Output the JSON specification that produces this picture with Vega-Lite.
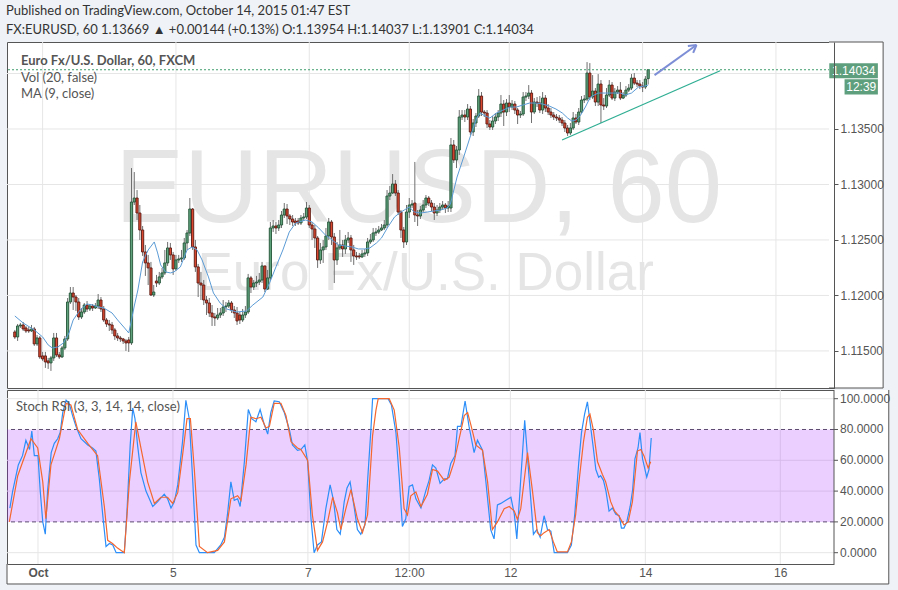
{
"$schema": "https://vega.github.io/schema/vega-lite/v6.json",
"background": "#eff2f6",
"padding": {"left": 6, "top": 5, "right": 10, "bottom": 8},
"spacing": 0,
"title": {"text": "Published on TradingView.com, October 14, 2015 01:47 EST", "subtitle": "FX:EURUSD, 60  1.13669 ▲ +0.00144 (+0.13%)  O:1.13954  H:1.14037  L:1.13901  C:1.14034", "anchor": "start", "font": "Lato", "fontSize": 13, "fontWeight": "normal", "color": "#333333", "subtitleFont": "Lato", "subtitleFontSize": 13, "subtitleColor": "#333333", "subtitlePadding": 6, "offset": 4},
"config": {"view": {"stroke": "#555555", "strokeWidth": 1, "fill": "#ffffff"}, "axis": {"grid": false, "labelFont": "Liberation Sans", "labelFontSize": 12, "labelColor": "#555555", "tickColor": "#555555", "domainColor": "#555555", "labelOverlap": false, "labelBound": false}},
"datasets": {
"candles": [
{"t":-10,"o":1.11671,"h":1.11689,"l":1.11608,"c":1.11626},
{"t":-9,"o":1.11626,"h":1.11743,"l":1.11590,"c":1.11725},
{"t":-8,"o":1.11725,"h":1.11752,"l":1.11707,"c":1.11734},
{"t":-7,"o":1.11734,"h":1.11761,"l":1.11680,"c":1.11698},
{"t":-6,"o":1.11707,"h":1.11725,"l":1.11662,"c":1.11680},
{"t":-5,"o":1.11689,"h":1.11716,"l":1.11662,"c":1.11680},
{"t":-4,"o":1.11680,"h":1.11734,"l":1.11671,"c":1.11698},
{"t":-3,"o":1.11698,"h":1.11716,"l":1.11545,"c":1.11563},
{"t":-2,"o":1.11563,"h":1.11644,"l":1.11545,"c":1.11617},
{"t":-1,"o":1.11617,"h":1.11635,"l":1.11428,"c":1.11446},
{"t":0,"o":1.11455,"h":1.11491,"l":1.11410,"c":1.11428},
{"t":1,"o":1.11455,"h":1.11491,"l":1.11347,"c":1.11401},
{"t":2,"o":1.11410,"h":1.11437,"l":1.11338,"c":1.11392},
{"t":3,"o":1.11392,"h":1.11455,"l":1.11320,"c":1.11437},
{"t":4,"o":1.11437,"h":1.11662,"l":1.11410,"c":1.11617},
{"t":5,"o":1.11617,"h":1.11662,"l":1.11446,"c":1.11464},
{"t":6,"o":1.11464,"h":1.11491,"l":1.11428,"c":1.11446},
{"t":7,"o":1.11446,"h":1.11545,"l":1.11437,"c":1.11527},
{"t":8,"o":1.11527,"h":1.11635,"l":1.11509,"c":1.11608},
{"t":9,"o":1.11608,"h":1.11977,"l":1.11590,"c":1.11941},
{"t":10,"o":1.11941,"h":1.12076,"l":1.11923,"c":1.12022},
{"t":11,"o":1.12022,"h":1.12076,"l":1.11869,"c":1.11986},
{"t":12,"o":1.11986,"h":1.12004,"l":1.11860,"c":1.11941},
{"t":13,"o":1.11941,"h":1.11977,"l":1.11779,"c":1.11806},
{"t":14,"o":1.11806,"h":1.11887,"l":1.11788,"c":1.11851},
{"t":15,"o":1.11851,"h":1.11932,"l":1.11833,"c":1.11914},
{"t":16,"o":1.11914,"h":1.11950,"l":1.11851,"c":1.11878},
{"t":17,"o":1.11878,"h":1.11923,"l":1.11860,"c":1.11905},
{"t":18,"o":1.11905,"h":1.11923,"l":1.11860,"c":1.11887},
{"t":19,"o":1.11887,"h":1.11932,"l":1.11878,"c":1.11905},
{"t":20,"o":1.11905,"h":1.12013,"l":1.11878,"c":1.11959},
{"t":21,"o":1.11959,"h":1.11986,"l":1.11851,"c":1.11878},
{"t":22,"o":1.11878,"h":1.11905,"l":1.11761,"c":1.11779},
{"t":23,"o":1.11779,"h":1.11797,"l":1.11716,"c":1.11743},
{"t":24,"o":1.11743,"h":1.11779,"l":1.11680,"c":1.11734},
{"t":25,"o":1.11734,"h":1.11761,"l":1.11653,"c":1.11689},
{"t":26,"o":1.11689,"h":1.11707,"l":1.11599,"c":1.11635},
{"t":27,"o":1.11635,"h":1.11662,"l":1.11590,"c":1.11617},
{"t":28,"o":1.11617,"h":1.11635,"l":1.11581,"c":1.11608},
{"t":29,"o":1.11608,"h":1.11617,"l":1.11563,"c":1.11590},
{"t":30,"o":1.11590,"h":1.11608,"l":1.11500,"c":1.11572},
{"t":31,"o":1.11599,"h":1.11626,"l":1.11491,"c":1.11572},
{"t":32,"o":1.11572,"h":1.13148,"l":1.11554,"c":1.12842},
{"t":33,"o":1.12842,"h":1.13112,"l":1.12815,"c":1.12878},
{"t":34,"o":1.12878,"h":1.12950,"l":1.12680,"c":1.12743},
{"t":35,"o":1.12743,"h":1.12815,"l":1.12500,"c":1.12590},
{"t":36,"o":1.12590,"h":1.12626,"l":1.12356,"c":1.12392},
{"t":37,"o":1.12392,"h":1.12455,"l":1.12176,"c":1.12293},
{"t":38,"o":1.12293,"h":1.12365,"l":1.12094,"c":1.12248},
{"t":39,"o":1.12248,"h":1.12302,"l":1.11995,"c":1.12004},
{"t":40,"o":1.12004,"h":1.12094,"l":1.11986,"c":1.12031},
{"t":41,"o":1.12130,"h":1.12185,"l":1.12076,"c":1.12112},
{"t":42,"o":1.12112,"h":1.12212,"l":1.12094,"c":1.12167},
{"t":43,"o":1.12167,"h":1.12248,"l":1.12149,"c":1.12203},
{"t":44,"o":1.12203,"h":1.12410,"l":1.12185,"c":1.12293},
{"t":45,"o":1.12293,"h":1.12482,"l":1.12266,"c":1.12428},
{"t":46,"o":1.12428,"h":1.12473,"l":1.12320,"c":1.12365},
{"t":47,"o":1.12365,"h":1.12392,"l":1.12185,"c":1.12239},
{"t":48,"o":1.12239,"h":1.12365,"l":1.12221,"c":1.12320},
{"t":49,"o":1.12320,"h":1.12365,"l":1.12293,"c":1.12329},
{"t":50,"o":1.12329,"h":1.12410,"l":1.12302,"c":1.12338},
{"t":51,"o":1.12338,"h":1.12518,"l":1.12320,"c":1.12473},
{"t":52,"o":1.12473,"h":1.12590,"l":1.12410,"c":1.12563},
{"t":53,"o":1.12563,"h":1.12878,"l":1.12536,"c":1.12779},
{"t":54,"o":1.12779,"h":1.12788,"l":1.12410,"c":1.12437},
{"t":55,"o":1.12437,"h":1.12500,"l":1.12212,"c":1.12257},
{"t":56,"o":1.12257,"h":1.12284,"l":1.11986,"c":1.12112},
{"t":57,"o":1.12112,"h":1.12212,"l":1.11959,"c":1.12094},
{"t":58,"o":1.12094,"h":1.12139,"l":1.11914,"c":1.11959},
{"t":59,"o":1.11959,"h":1.11995,"l":1.11824,"c":1.11932},
{"t":60,"o":1.11932,"h":1.11977,"l":1.11806,"c":1.11842},
{"t":61,"o":1.11842,"h":1.11914,"l":1.11725,"c":1.11806},
{"t":62,"o":1.11806,"h":1.11842,"l":1.11725,"c":1.11797},
{"t":63,"o":1.11797,"h":1.11887,"l":1.11779,"c":1.11824},
{"t":64,"o":1.11824,"h":1.11887,"l":1.11797,"c":1.11842},
{"t":65,"o":1.11842,"h":1.11959,"l":1.11815,"c":1.11896},
{"t":66,"o":1.11896,"h":1.11941,"l":1.11851,"c":1.11905},
{"t":67,"o":1.11905,"h":1.11959,"l":1.11887,"c":1.11932},
{"t":68,"o":1.11932,"h":1.11950,"l":1.11842,"c":1.11869},
{"t":69,"o":1.11869,"h":1.11905,"l":1.11797,"c":1.11842},
{"t":70,"o":1.11842,"h":1.11896,"l":1.11734,"c":1.11770},
{"t":71,"o":1.11824,"h":1.11851,"l":1.11743,"c":1.11779},
{"t":72,"o":1.11779,"h":1.11878,"l":1.11761,"c":1.11824},
{"t":73,"o":1.11824,"h":1.11905,"l":1.11797,"c":1.11851},
{"t":74,"o":1.11851,"h":1.12194,"l":1.11833,"c":1.12158},
{"t":75,"o":1.12158,"h":1.12176,"l":1.12022,"c":1.12076},
{"t":76,"o":1.12076,"h":1.12139,"l":1.12049,"c":1.12112},
{"t":77,"o":1.12112,"h":1.12176,"l":1.12076,"c":1.12121},
{"t":78,"o":1.12121,"h":1.12203,"l":1.12094,"c":1.12139},
{"t":79,"o":1.12139,"h":1.12302,"l":1.12112,"c":1.12266},
{"t":80,"o":1.12266,"h":1.12266,"l":1.12031,"c":1.12058},
{"t":81,"o":1.12058,"h":1.12230,"l":1.12049,"c":1.12158},
{"t":82,"o":1.12158,"h":1.12662,"l":1.12139,"c":1.12608},
{"t":83,"o":1.12608,"h":1.12680,"l":1.12572,"c":1.12626},
{"t":84,"o":1.12626,"h":1.12662,"l":1.12554,"c":1.12608},
{"t":85,"o":1.12608,"h":1.12680,"l":1.12581,"c":1.12635},
{"t":86,"o":1.12635,"h":1.12761,"l":1.12608,"c":1.12725},
{"t":87,"o":1.12725,"h":1.12833,"l":1.12698,"c":1.12779},
{"t":88,"o":1.12779,"h":1.12824,"l":1.12644,"c":1.12716},
{"t":89,"o":1.12716,"h":1.12734,"l":1.12635,"c":1.12689},
{"t":90,"o":1.12689,"h":1.12725,"l":1.12626,"c":1.12662},
{"t":91,"o":1.12671,"h":1.12698,"l":1.12626,"c":1.12653},
{"t":92,"o":1.12671,"h":1.12698,"l":1.12635,"c":1.12653},
{"t":93,"o":1.12653,"h":1.12725,"l":1.12635,"c":1.12698},
{"t":94,"o":1.12698,"h":1.12743,"l":1.12671,"c":1.12707},
{"t":95,"o":1.12707,"h":1.12842,"l":1.12689,"c":1.12788},
{"t":96,"o":1.12788,"h":1.12815,"l":1.12608,"c":1.12635},
{"t":97,"o":1.12635,"h":1.12662,"l":1.12500,"c":1.12599},
{"t":98,"o":1.12599,"h":1.12635,"l":1.12428,"c":1.12518},
{"t":99,"o":1.12518,"h":1.12536,"l":1.12248,"c":1.12320},
{"t":100,"o":1.12320,"h":1.12473,"l":1.12284,"c":1.12410},
{"t":101,"o":1.12410,"h":1.12500,"l":1.12293,"c":1.12437},
{"t":102,"o":1.12437,"h":1.12608,"l":1.12410,"c":1.12536},
{"t":103,"o":1.12536,"h":1.12698,"l":1.12500,"c":1.12662},
{"t":104,"o":1.12662,"h":1.12680,"l":1.12455,"c":1.12527},
{"t":105,"o":1.12527,"h":1.12563,"l":1.12112,"c":1.12320},
{"t":106,"o":1.12320,"h":1.12482,"l":1.12275,"c":1.12428},
{"t":107,"o":1.12428,"h":1.12590,"l":1.12410,"c":1.12455},
{"t":108,"o":1.12455,"h":1.12500,"l":1.12347,"c":1.12419},
{"t":109,"o":1.12419,"h":1.12545,"l":1.12374,"c":1.12500},
{"t":110,"o":1.12500,"h":1.12572,"l":1.12473,"c":1.12518},
{"t":111,"o":1.12518,"h":1.12545,"l":1.12302,"c":1.12410},
{"t":112,"o":1.12410,"h":1.12455,"l":1.12275,"c":1.12356},
{"t":113,"o":1.12356,"h":1.12392,"l":1.12320,"c":1.12347},
{"t":114,"o":1.12356,"h":1.12383,"l":1.12329,"c":1.12347},
{"t":115,"o":1.12347,"h":1.12410,"l":1.12338,"c":1.12374},
{"t":116,"o":1.12374,"h":1.12419,"l":1.12347,"c":1.12383},
{"t":117,"o":1.12383,"h":1.12518,"l":1.12356,"c":1.12482},
{"t":118,"o":1.12482,"h":1.12554,"l":1.12464,"c":1.12500},
{"t":119,"o":1.12500,"h":1.12608,"l":1.12482,"c":1.12563},
{"t":120,"o":1.12563,"h":1.12608,"l":1.12536,"c":1.12572},
{"t":121,"o":1.12572,"h":1.12626,"l":1.12554,"c":1.12590},
{"t":122,"o":1.12590,"h":1.12644,"l":1.12581,"c":1.12608},
{"t":123,"o":1.12608,"h":1.12680,"l":1.12590,"c":1.12635},
{"t":124,"o":1.12635,"h":1.12950,"l":1.12608,"c":1.12896},
{"t":125,"o":1.12896,"h":1.12986,"l":1.12860,"c":1.12923},
{"t":126,"o":1.12923,"h":1.13094,"l":1.12914,"c":1.13004},
{"t":127,"o":1.13004,"h":1.13040,"l":1.12896,"c":1.12923},
{"t":128,"o":1.12923,"h":1.12950,"l":1.12725,"c":1.12752},
{"t":129,"o":1.12752,"h":1.12770,"l":1.12518,"c":1.12590},
{"t":130,"o":1.12590,"h":1.12617,"l":1.12428,"c":1.12482},
{"t":131,"o":1.12482,"h":1.12815,"l":1.12455,"c":1.12752},
{"t":132,"o":1.12752,"h":1.12878,"l":1.12698,"c":1.12815},
{"t":133,"o":1.12815,"h":1.12860,"l":1.12788,"c":1.12824},
{"t":134,"o":1.12833,"h":1.13203,"l":1.12662,"c":1.12725},
{"t":135,"o":1.12725,"h":1.12770,"l":1.12626,"c":1.12716},
{"t":136,"o":1.12716,"h":1.12806,"l":1.12689,"c":1.12770},
{"t":137,"o":1.12770,"h":1.12860,"l":1.12752,"c":1.12815},
{"t":138,"o":1.12815,"h":1.12905,"l":1.12788,"c":1.12878},
{"t":139,"o":1.12878,"h":1.12896,"l":1.12806,"c":1.12833},
{"t":140,"o":1.12833,"h":1.12860,"l":1.12761,"c":1.12797},
{"t":141,"o":1.12797,"h":1.12833,"l":1.12680,"c":1.12743},
{"t":142,"o":1.12743,"h":1.12815,"l":1.12716,"c":1.12770},
{"t":143,"o":1.12770,"h":1.12833,"l":1.12743,"c":1.12797},
{"t":144,"o":1.12797,"h":1.12851,"l":1.12770,"c":1.12815},
{"t":145,"o":1.12815,"h":1.12833,"l":1.12743,"c":1.12788},
{"t":146,"o":1.12788,"h":1.12851,"l":1.12752,"c":1.12806},
{"t":147,"o":1.12788,"h":1.13419,"l":1.12752,"c":1.13356},
{"t":148,"o":1.13356,"h":1.13401,"l":1.13194,"c":1.13221},
{"t":149,"o":1.13221,"h":1.13347,"l":1.13148,"c":1.13311},
{"t":150,"o":1.13311,"h":1.13671,"l":1.13266,"c":1.13608},
{"t":151,"o":1.13608,"h":1.13671,"l":1.13581,"c":1.13626},
{"t":152,"o":1.13626,"h":1.13671,"l":1.13563,"c":1.13608},
{"t":153,"o":1.13608,"h":1.13725,"l":1.13581,"c":1.13680},
{"t":154,"o":1.13680,"h":1.13707,"l":1.13446,"c":1.13473},
{"t":155,"o":1.13473,"h":1.13590,"l":1.13437,"c":1.13554},
{"t":156,"o":1.13554,"h":1.13644,"l":1.13518,"c":1.13617},
{"t":157,"o":1.13617,"h":1.13860,"l":1.13599,"c":1.13797},
{"t":158,"o":1.13797,"h":1.13833,"l":1.13617,"c":1.13653},
{"t":159,"o":1.13653,"h":1.13671,"l":1.13608,"c":1.13644},
{"t":160,"o":1.13644,"h":1.13671,"l":1.13509,"c":1.13545},
{"t":161,"o":1.13545,"h":1.13581,"l":1.13491,"c":1.13518},
{"t":162,"o":1.13518,"h":1.13617,"l":1.13491,"c":1.13572},
{"t":163,"o":1.13572,"h":1.13644,"l":1.13545,"c":1.13608},
{"t":164,"o":1.13608,"h":1.13671,"l":1.13572,"c":1.13644},
{"t":165,"o":1.13644,"h":1.13806,"l":1.13608,"c":1.13725},
{"t":166,"o":1.13725,"h":1.13761,"l":1.13527,"c":1.13653},
{"t":167,"o":1.13653,"h":1.13770,"l":1.13617,"c":1.13734},
{"t":168,"o":1.13734,"h":1.13806,"l":1.13653,"c":1.13698},
{"t":169,"o":1.13698,"h":1.13761,"l":1.13671,"c":1.13725},
{"t":170,"o":1.13725,"h":1.13752,"l":1.13635,"c":1.13671},
{"t":171,"o":1.13671,"h":1.13689,"l":1.13545,"c":1.13626},
{"t":172,"o":1.13626,"h":1.13662,"l":1.13599,"c":1.13635},
{"t":173,"o":1.13635,"h":1.13833,"l":1.13617,"c":1.13788},
{"t":174,"o":1.13788,"h":1.13833,"l":1.13752,"c":1.13797},
{"t":175,"o":1.13797,"h":1.13896,"l":1.13770,"c":1.13824},
{"t":176,"o":1.13824,"h":1.13851,"l":1.13554,"c":1.13653},
{"t":177,"o":1.13653,"h":1.13779,"l":1.13635,"c":1.13743},
{"t":178,"o":1.13743,"h":1.13788,"l":1.13698,"c":1.13734},
{"t":179,"o":1.13734,"h":1.13797,"l":1.13644,"c":1.13671},
{"t":180,"o":1.13671,"h":1.13833,"l":1.13635,"c":1.13779},
{"t":181,"o":1.13779,"h":1.13806,"l":1.13653,"c":1.13689},
{"t":182,"o":1.13689,"h":1.13725,"l":1.13626,"c":1.13653},
{"t":183,"o":1.13653,"h":1.13689,"l":1.13599,"c":1.13626},
{"t":184,"o":1.13626,"h":1.13653,"l":1.13581,"c":1.13608},
{"t":185,"o":1.13608,"h":1.13635,"l":1.13572,"c":1.13599},
{"t":186,"o":1.13599,"h":1.13626,"l":1.13554,"c":1.13581},
{"t":187,"o":1.13581,"h":1.13608,"l":1.13527,"c":1.13554},
{"t":188,"o":1.13554,"h":1.13581,"l":1.13473,"c":1.13509},
{"t":189,"o":1.13509,"h":1.13536,"l":1.13437,"c":1.13464},
{"t":190,"o":1.13464,"h":1.13554,"l":1.13446,"c":1.13509},
{"t":191,"o":1.13509,"h":1.13653,"l":1.13491,"c":1.13599},
{"t":192,"o":1.13599,"h":1.13635,"l":1.13545,"c":1.13563},
{"t":193,"o":1.13563,"h":1.13689,"l":1.13536,"c":1.13653},
{"t":194,"o":1.13653,"h":1.13797,"l":1.13644,"c":1.13761},
{"t":195,"o":1.13761,"h":1.13806,"l":1.13734,"c":1.13770},
{"t":196,"o":1.13770,"h":1.14103,"l":1.13752,"c":1.14004},
{"t":197,"o":1.14004,"h":1.14094,"l":1.13761,"c":1.13788},
{"t":198,"o":1.13788,"h":1.13986,"l":1.13770,"c":1.13842},
{"t":199,"o":1.13842,"h":1.13869,"l":1.13707,"c":1.13743},
{"t":200,"o":1.13743,"h":1.13995,"l":1.13707,"c":1.13905},
{"t":201,"o":1.13905,"h":1.13941,"l":1.13554,"c":1.13716},
{"t":202,"o":1.13716,"h":1.13779,"l":1.13671,"c":1.13707},
{"t":203,"o":1.13707,"h":1.13869,"l":1.13689,"c":1.13806},
{"t":204,"o":1.13806,"h":1.13941,"l":1.13788,"c":1.13896},
{"t":205,"o":1.13896,"h":1.13923,"l":1.13761,"c":1.13779},
{"t":206,"o":1.13779,"h":1.13869,"l":1.13752,"c":1.13833},
{"t":207,"o":1.13833,"h":1.13887,"l":1.13815,"c":1.13851},
{"t":208,"o":1.13851,"h":1.13923,"l":1.13761,"c":1.13779},
{"t":209,"o":1.13779,"h":1.13833,"l":1.13770,"c":1.13806},
{"t":210,"o":1.13806,"h":1.13887,"l":1.13788,"c":1.13851},
{"t":211,"o":1.13851,"h":1.13905,"l":1.13833,"c":1.13869},
{"t":212,"o":1.13869,"h":1.13995,"l":1.13851,"c":1.13959},
{"t":213,"o":1.13959,"h":1.14004,"l":1.13896,"c":1.13914},
{"t":214,"o":1.13914,"h":1.13941,"l":1.13878,"c":1.13905},
{"t":215,"o":1.13905,"h":1.13941,"l":1.13860,"c":1.13887},
{"t":216,"o":1.13887,"h":1.13923,"l":1.13833,"c":1.13878},
{"t":217,"o":1.13878,"h":1.13977,"l":1.13860,"c":1.13950},
{"t":218,"o":1.13954,"h":1.14037,"l":1.13901,"c":1.14034}
],
"ma": [
{"t":-10,"v":1.11815},{"t":-7,"v":1.11752},{"t":-3,"v":1.11689},{"t":0,"v":1.11626},{"t":2,"v":1.11554},{"t":3.5,"v":1.11527},{"t":5.5,"v":1.11536},{"t":7.5,"v":1.11572},{"t":9.5,"v":1.11662},{"t":11,"v":1.11779},{"t":13.5,"v":1.11869},{"t":16,"v":1.11923},{"t":18,"v":1.11914},{"t":20,"v":1.11896},{"t":22,"v":1.11887},{"t":25,"v":1.11842},{"t":27,"v":1.11779},{"t":29.5,"v":1.11707},{"t":31,"v":1.11662},{"t":32,"v":1.11779},{"t":33,"v":1.11905},{"t":34.3,"v":1.12049},{"t":36,"v":1.12302},{"t":38,"v":1.12410},{"t":40.2,"v":1.12482},{"t":41.4,"v":1.12383},{"t":42.5,"v":1.12275},{"t":44.3,"v":1.12212},{"t":46,"v":1.12203},{"t":47.3,"v":1.12212},{"t":49.6,"v":1.12257},{"t":52,"v":1.12410},{"t":53.8,"v":1.12437},{"t":55.6,"v":1.12410},{"t":57.4,"v":1.12320},{"t":59.7,"v":1.12167},{"t":61.5,"v":1.12022},{"t":63.9,"v":1.11932},{"t":66.3,"v":1.11878},{"t":69.8,"v":1.11851},{"t":73.4,"v":1.11860},{"t":75.7,"v":1.11914},{"t":79.3,"v":1.11986},{"t":81.7,"v":1.12112},{"t":84,"v":1.12257},{"t":86.5,"v":1.12410},{"t":88.8,"v":1.12572},{"t":91.1,"v":1.12653},{"t":94.7,"v":1.12680},{"t":97,"v":1.12662},{"t":99.4,"v":1.12608},{"t":101.8,"v":1.12545},{"t":104.2,"v":1.12500},{"t":106.5,"v":1.12455},{"t":108.9,"v":1.12446},{"t":111.3,"v":1.12437},{"t":113.7,"v":1.12419},{"t":116,"v":1.12419},{"t":117.8,"v":1.12428},{"t":120.2,"v":1.12473},{"t":122,"v":1.12518},{"t":124.3,"v":1.12617},{"t":126.7,"v":1.12707},{"t":128.5,"v":1.12743},{"t":130.2,"v":1.12770},{"t":132,"v":1.12797},{"t":133.8,"v":1.12752},{"t":136.2,"v":1.12743},{"t":138.5,"v":1.12752},{"t":140.9,"v":1.12761},{"t":143.3,"v":1.12770},{"t":145.6,"v":1.12788},{"t":146.8,"v":1.12824},{"t":149.2,"v":1.13067},{"t":151.6,"v":1.13248},{"t":153.9,"v":1.13428},{"t":156.3,"v":1.13599},{"t":157.5,"v":1.13644},{"t":158.7,"v":1.13626},{"t":161,"v":1.13599},{"t":163.4,"v":1.13644},{"t":165.8,"v":1.13671},{"t":168.2,"v":1.13698},{"t":170.6,"v":1.13698},{"t":172.9,"v":1.13716},{"t":175.3,"v":1.13734},{"t":177.7,"v":1.13734},{"t":180,"v":1.13725},{"t":182.4,"v":1.13707},{"t":184.8,"v":1.13680},{"t":187.1,"v":1.13644},{"t":189,"v":1.13599},{"t":190.5,"v":1.13572},{"t":192,"v":1.13581},{"t":193.7,"v":1.13626},{"t":195.4,"v":1.13698},{"t":197.2,"v":1.13788},{"t":200,"v":1.13824},{"t":202.5,"v":1.13824},{"t":205,"v":1.13824},{"t":208,"v":1.13824},{"t":209.7,"v":1.13806},{"t":212,"v":1.13824},{"t":214.5,"v":1.13878},{"t":216.8,"v":1.13887},{"t":218,"v":1.13896}
],
"stochK": [
{"t":-10,"v":29},{"t":-9,"v":40},{"t":-7,"v":57},{"t":-5.5,"v":63},{"t":-4.3,"v":73},{"t":-3,"v":67},{"t":-2.2,"v":79},{"t":-1.3,"v":63},{"t":0,"v":63},{"t":0.8,"v":40},{"t":1.7,"v":20},{"t":2.6,"v":12},{"t":3.4,"v":40},{"t":4.7,"v":65},{"t":5.8,"v":71},{"t":7,"v":74},{"t":7.9,"v":78},{"t":8.8,"v":91},{"t":10,"v":99},{"t":11.1,"v":97},{"t":12.3,"v":89},{"t":13.5,"v":82},{"t":15.3,"v":74},{"t":17.7,"v":70},{"t":19.4,"v":68},{"t":20.6,"v":66},{"t":21.8,"v":48},{"t":23,"v":25},{"t":24.2,"v":4},{"t":25.4,"v":6},{"t":26.6,"v":5},{"t":27.8,"v":0},{"t":30.7,"v":0},{"t":31.6,"v":25},{"t":32.8,"v":70},{"t":33.7,"v":94},{"t":34.5,"v":87},{"t":35.4,"v":70},{"t":36.6,"v":52},{"t":38.4,"v":40},{"t":40.8,"v":30},{"t":42.5,"v":33},{"t":44.9,"v":38},{"t":46.1,"v":35},{"t":47.3,"v":29},{"t":48.5,"v":33},{"t":49.7,"v":44},{"t":51.4,"v":72},{"t":52.6,"v":99},{"t":53.8,"v":87},{"t":55,"v":48},{"t":56.2,"v":5},{"t":57.4,"v":0},{"t":62.7,"v":0},{"t":65,"v":5},{"t":66.3,"v":10},{"t":67.4,"v":25},{"t":68.6,"v":46},{"t":69.8,"v":34},{"t":71,"v":35},{"t":71.9,"v":30},{"t":73.4,"v":59},{"t":74.8,"v":93},{"t":76,"v":87},{"t":77.5,"v":85},{"t":79,"v":93},{"t":80.5,"v":83},{"t":81.7,"v":77},{"t":82.8,"v":91},{"t":84,"v":98.5},{"t":85.8,"v":98},{"t":87.6,"v":91},{"t":89.4,"v":80},{"t":90.5,"v":70},{"t":92.3,"v":66.5},{"t":93.5,"v":67},{"t":94.9,"v":70},{"t":95.9,"v":59},{"t":97.1,"v":22},{"t":98.2,"v":0},{"t":99.4,"v":5},{"t":100.8,"v":7},{"t":102.4,"v":29},{"t":103.9,"v":44},{"t":105.1,"v":34},{"t":106.3,"v":15},{"t":107.5,"v":12},{"t":108.9,"v":33},{"t":109.9,"v":42},{"t":111,"v":46},{"t":112.5,"v":29},{"t":113.6,"v":15},{"t":114.8,"v":12},{"t":116.3,"v":18},{"t":117.2,"v":46},{"t":118.4,"v":80},{"t":119,"v":100},{"t":124.5,"v":100},{"t":125.7,"v":96},{"t":127.3,"v":78},{"t":128.5,"v":48},{"t":129.6,"v":17},{"t":130.8,"v":22},{"t":132,"v":43},{"t":133.2,"v":44},{"t":134.4,"v":35},{"t":136.2,"v":29},{"t":137.9,"v":40},{"t":139.1,"v":47},{"t":140.3,"v":57},{"t":141.5,"v":55},{"t":143,"v":45},{"t":144.5,"v":48},{"t":145.6,"v":48},{"t":146.8,"v":58},{"t":148.3,"v":63},{"t":149.2,"v":82},{"t":150.4,"v":82},{"t":151.9,"v":98.5},{"t":153.3,"v":82},{"t":155.1,"v":65},{"t":156.3,"v":73},{"t":158.1,"v":66.5},{"t":159.3,"v":46},{"t":161,"v":15},{"t":162.2,"v":9},{"t":163.4,"v":31},{"t":164.6,"v":32},{"t":166.4,"v":34},{"t":168.2,"v":36},{"t":169.4,"v":25},{"t":170.3,"v":9},{"t":171.7,"v":48},{"t":173.1,"v":86},{"t":174.7,"v":48},{"t":176.2,"v":12},{"t":177.4,"v":15},{"t":178.6,"v":10},{"t":180,"v":24},{"t":181.2,"v":15},{"t":182.4,"v":14},{"t":183.6,"v":0},{"t":188.3,"v":0},{"t":189.7,"v":5},{"t":190.9,"v":25},{"t":192.3,"v":58},{"t":193.3,"v":78},{"t":194.4,"v":90},{"t":195.4,"v":98},{"t":196.4,"v":84},{"t":197.5,"v":68},{"t":198.4,"v":54},{"t":199.4,"v":49},{"t":200.1,"v":50},{"t":201.1,"v":47},{"t":202,"v":40},{"t":203.1,"v":27},{"t":204.3,"v":29},{"t":205.5,"v":25},{"t":206.7,"v":24},{"t":207.5,"v":16},{"t":208.4,"v":16},{"t":209.4,"v":20},{"t":210.6,"v":30},{"t":211.5,"v":41},{"t":212.3,"v":61},{"t":213.4,"v":68},{"t":214.1,"v":78},{"t":215,"v":61},{"t":216.5,"v":49},{"t":217.3,"v":54},{"t":218.1,"v":74.5}
],
"stochD": [
{"t":-10.2,"v":20},{"t":-7.2,"v":50},{"t":-2.5,"v":74},{"t":-0.1,"v":68},{"t":1.7,"v":46},{"t":2.8,"v":22},{"t":4.6,"v":57},{"t":7.6,"v":74},{"t":10,"v":97},{"t":11.7,"v":96},{"t":14.1,"v":80},{"t":17.7,"v":71},{"t":21.2,"v":63},{"t":23.6,"v":30},{"t":24.8,"v":8},{"t":26.5,"v":6},{"t":28.3,"v":3},{"t":30.7,"v":0},{"t":32.5,"v":46},{"t":34.8,"v":85},{"t":36.6,"v":68},{"t":39,"v":46},{"t":41.4,"v":32},{"t":43.7,"v":36},{"t":46.1,"v":36},{"t":47.9,"v":32},{"t":49.7,"v":39},{"t":51.4,"v":63},{"t":53,"v":87},{"t":54.2,"v":87},{"t":55.6,"v":54},{"t":57.4,"v":4},{"t":60.3,"v":0},{"t":63.9,"v":1.5},{"t":66.3,"v":7},{"t":68.6,"v":35},{"t":71,"v":37},{"t":72.2,"v":34},{"t":74,"v":57},{"t":75.7,"v":88},{"t":77.5,"v":87},{"t":79.3,"v":88},{"t":81.1,"v":81},{"t":82.3,"v":82},{"t":84,"v":97},{"t":86.4,"v":97},{"t":88.2,"v":89},{"t":90,"v":72},{"t":92.3,"v":68},{"t":93.5,"v":67},{"t":95.9,"v":60},{"t":97.6,"v":24.5},{"t":99.4,"v":1.5},{"t":101.2,"v":7},{"t":103,"v":20},{"t":104.8,"v":36},{"t":106.5,"v":26},{"t":107.7,"v":15},{"t":109.5,"v":28.6},{"t":111.3,"v":41},{"t":113.6,"v":22},{"t":115.4,"v":13},{"t":117.2,"v":24.5},{"t":119,"v":76},{"t":120.2,"v":92.6},{"t":121,"v":100},{"t":124.9,"v":100},{"t":126.7,"v":92.6},{"t":128.5,"v":68},{"t":130.2,"v":28.6},{"t":131.4,"v":24.5},{"t":132.6,"v":37},{"t":134.4,"v":39.5},{"t":136.2,"v":30},{"t":138.5,"v":38},{"t":140.3,"v":54},{"t":142.1,"v":53},{"t":144.5,"v":47},{"t":146.2,"v":49},{"t":148,"v":59},{"t":149.8,"v":74},{"t":151.6,"v":89},{"t":152.8,"v":91},{"t":154,"v":82.7},{"t":155.7,"v":70},{"t":158.1,"v":66.5},{"t":159.9,"v":46},{"t":161.6,"v":15},{"t":163.4,"v":20},{"t":165.8,"v":28.6},{"t":167.6,"v":30},{"t":169.4,"v":27},{"t":170.5,"v":21.6},{"t":171.7,"v":28.6},{"t":174.1,"v":65},{"t":175.9,"v":39.5},{"t":177.6,"v":13},{"t":178.8,"v":11},{"t":180,"v":13},{"t":181.8,"v":15},{"t":183.3,"v":7},{"t":184.7,"v":0.5},{"t":188.3,"v":0.5},{"t":189.7,"v":7},{"t":191.2,"v":24.5},{"t":192.4,"v":46},{"t":194,"v":72},{"t":195.4,"v":88},{"t":196.3,"v":90},{"t":197.5,"v":80},{"t":199,"v":59},{"t":200.7,"v":51},{"t":201.9,"v":46},{"t":203.7,"v":33},{"t":205.1,"v":27},{"t":206.7,"v":23.6},{"t":208.4,"v":18},{"t":209.9,"v":20},{"t":211.4,"v":33},{"t":213.2,"v":66},{"t":214.4,"v":67},{"t":215.5,"v":63},{"t":217,"v":55},{"t":217.9,"v":59}
],
"oscTicks": [{"v":0},{"v":20},{"v":40},{"v":60},{"v":80},{"v":100}]
},
"vconcat": [
{
"width": 827, "height": 346,
"layer": [
{"data": {"values": [{"p":1.115},{"p":1.12},{"p":1.125},{"p":1.13},{"p":1.135},{"p":1.14}]},
 "mark": {"type": "rule", "color": "#e6e6e6", "strokeWidth": 1},
 "encoding": {
  "y": {"field": "p", "type": "quantitative", "scale": {"domain": [1.11166, 1.14284], "nice": false, "zero": false}, "axis": {"orient": "right", "values": [1.115, 1.12, 1.125, 1.13, 1.135], "format": ".5f", "tickSize": 4, "labelPadding": 2, "domain": true, "title": null, "labelFlush": false, "zindex": 1}}}},
{"data": {"values": [{"t":0},{"t":48},{"t":96},{"t":132},{"t":168},{"t":216},{"t":264}]},
 "mark": {"type": "rule", "color": "#e6e6e6", "strokeWidth": 1},
 "encoding": {"x": {"field": "t", "type": "quantitative", "scale": {"domain": [-11.02, 283.1], "nice": false, "zero": false}, "axis": null}}},
{"data": {"values": [{}]},
 "mark": {"type": "text", "text": "EURUSD, 60", "font": "Liberation Sans", "fontSize": 103, "color": "#e5e5e5", "align": "center", "baseline": "alphabetic"},
 "encoding": {"x": {"datum": 135.4, "type": "quantitative", "axis": null}, "y": {"datum": 1.12662, "type": "quantitative", "title": null}}},
{"data": {"values": [{}]},
 "mark": {"type": "text", "text": "Euro Fx/U.S. Dollar", "font": "Liberation Sans", "fontSize": 53, "color": "#e5e5e5", "align": "center", "baseline": "alphabetic"},
 "encoding": {"x": {"datum": 137.9, "type": "quantitative", "axis": null}, "y": {"datum": 1.12049, "type": "quantitative", "title": null}}},
{"data": {"values": [{}]},
 "mark": {"type": "text", "text": "Euro Fx/U.S. Dollar, 60, FXCM", "font": "Lato", "fontSize": 13, "fontWeight": "bold", "color": "#555555", "align": "left", "baseline": "alphabetic"},
 "encoding": {"x": {"datum": -7.8, "type": "quantitative", "axis": null}, "y": {"datum": 1.14076, "type": "quantitative", "title": null}}},
{"data": {"values": [{}]},
 "mark": {"type": "text", "text": "Vol (20, false)", "font": "Lato", "fontSize": 13, "color": "#555555", "align": "left", "baseline": "alphabetic"},
 "encoding": {"x": {"datum": -7.8, "type": "quantitative", "axis": null}, "y": {"datum": 1.13923, "type": "quantitative", "title": null}}},
{"data": {"values": [{}]},
 "mark": {"type": "text", "text": "MA (9, close)", "font": "Lato", "fontSize": 13, "color": "#555555", "align": "left", "baseline": "alphabetic"},
 "encoding": {"x": {"datum": -7.8, "type": "quantitative", "axis": null}, "y": {"datum": 1.13779, "type": "quantitative", "title": null}}},
{"data": {"name": "candles"},
 "mark": {"type": "rule", "color": "#707070", "strokeWidth": 1},
 "encoding": {"x": {"field": "t", "type": "quantitative", "axis": null}, "y": {"field": "l", "type": "quantitative", "title": null}, "y2": {"field": "h"}}},
{"data": {"name": "candles"},
 "mark": {"type": "bar", "size": 2.2, "strokeWidth": 0.9},
 "encoding": {"x": {"field": "t", "type": "quantitative", "axis": null}, "y": {"field": "o", "type": "quantitative", "title": null}, "y2": {"field": "c"},
  "fill": {"condition": {"test": "datum.c >= datum.o", "value": "#5fa27c"}, "value": "#d9482f"},
  "stroke": {"condition": {"test": "datum.c >= datum.o", "value": "#225437"}, "value": "#5b1a13"}}},
{"data": {"name": "ma"},
 "mark": {"type": "line", "color": "#5b9bd5", "strokeWidth": 1},
 "encoding": {"x": {"field": "t", "type": "quantitative", "axis": null}, "y": {"field": "v", "type": "quantitative", "title": null}}},
{"data": {"values": [{}]},
 "mark": {"type": "rule", "color": "#3f9c6d", "strokeWidth": 1, "strokeDash": [2, 2]},
 "encoding": {"y": {"datum": 1.14034, "type": "quantitative", "title": null}}},
{"data": {"values": [{}]},
 "mark": {"type": "rule", "color": "#2fae93", "strokeWidth": 1.3},
 "encoding": {"x": {"datum": 187.0, "type": "quantitative", "axis": null}, "x2": {"datum": 243.9}, "y": {"datum": 1.13401, "type": "quantitative", "title": null}, "y2": {"datum": 1.14025}}},
{"data": {"values": [{}]},
 "mark": {"type": "rule", "color": "#7d8ed6", "strokeWidth": 2},
 "encoding": {"x": {"datum": 220.3, "type": "quantitative", "axis": null}, "x2": {"datum": 235.4}, "y": {"datum": 1.13986, "type": "quantitative", "title": null}, "y2": {"datum": 1.14257}}},
{"data": {"values": [{}]},
 "mark": {"type": "rule", "color": "#7d8ed6", "strokeWidth": 2},
 "encoding": {"x": {"datum": 232.3, "type": "quantitative", "axis": null}, "x2": {"datum": 235.4}, "y": {"datum": 1.14248, "type": "quantitative", "title": null}, "y2": {"datum": 1.14257}}},
{"data": {"values": [{}]},
 "mark": {"type": "rule", "color": "#7d8ed6", "strokeWidth": 2},
 "encoding": {"x": {"datum": 234.2, "type": "quantitative", "axis": null}, "x2": {"datum": 235.4}, "y": {"datum": 1.14185, "type": "quantitative", "title": null}, "y2": {"datum": 1.14257}}},
{"data": {"values": [{}]},
 "mark": {"type": "rect", "color": "#ffffff"},
 "encoding": {"x": {"datum": 283.1, "type": "quantitative", "axis": null}, "x2": {"datum": 302.58}, "y": {"datum": 1.11166, "type": "quantitative", "title": null}, "y2": {"datum": 1.14284}}},
{"data": {"values": [{}]},
 "mark": {"type": "rule", "color": "#555555", "strokeWidth": 1},
 "encoding": {"x": {"datum": 283.1, "type": "quantitative", "axis": null}, "x2": {"datum": 302.58}, "y": {"datum": 1.14284, "type": "quantitative", "title": null}}},
{"data": {"values": [{}]},
 "mark": {"type": "rule", "color": "#555555", "strokeWidth": 1},
 "encoding": {"x": {"datum": 283.1, "type": "quantitative", "axis": null}, "x2": {"datum": 302.58}, "y": {"datum": 1.11166, "type": "quantitative", "title": null}}},
{"data": {"values": [{}]},
 "mark": {"type": "rule", "color": "#555555", "strokeWidth": 1},
 "encoding": {"x": {"datum": 302.58, "type": "quantitative", "axis": null}, "y": {"datum": 1.11166, "type": "quantitative", "title": null}, "y2": {"datum": 1.14284}}},
{"data": {"values": [{}]},
 "mark": {"type": "rect", "color": "#5e9f7e"},
 "encoding": {"x": {"datum": 283.2, "type": "quantitative", "axis": null}, "x2": {"datum": 300.7}, "y": {"datum": 1.14092, "type": "quantitative", "title": null}, "y2": {"datum": 1.13957}}},
{"data": {"values": [{}]},
 "mark": {"type": "rect", "color": "#5e9f7e"},
 "encoding": {"x": {"datum": 288.7, "type": "quantitative", "axis": null}, "x2": {"datum": 300.7}, "y": {"datum": 1.13948, "type": "quantitative", "title": null}, "y2": {"datum": 1.13812}}},
{"data": {"values": [{}]},
 "mark": {"type": "text", "text": "1.14034", "font": "Liberation Sans", "fontSize": 12, "color": "#ffffff", "align": "center", "baseline": "middle"},
 "encoding": {"x": {"datum": 292.0, "type": "quantitative", "axis": null}, "y": {"datum": 1.14025, "type": "quantitative", "title": null}}},
{"data": {"values": [{}]},
 "mark": {"type": "text", "text": "12:39", "font": "Liberation Sans", "fontSize": 12, "color": "#ffffff", "align": "center", "baseline": "middle"},
 "encoding": {"x": {"datum": 294.7, "type": "quantitative", "axis": null}, "y": {"datum": 1.1388, "type": "quantitative", "title": null}}}
]
},
{
"width": 827, "height": 174,
"layer": [
{"data": {"values": [{"v":0},{"v":40},{"v":60},{"v":100}]},
 "mark": {"type": "rule", "color": "#e6e6e6", "strokeWidth": 1},
 "encoding": {
  "y": {"field": "v", "type": "quantitative", "scale": {"domain": [-7.34, 105.65], "nice": false, "zero": false}, "axis": null}}},
{"data": {"values": [{"t":0},{"t":48},{"t":96},{"t":132},{"t":168},{"t":216},{"t":264}]},
 "mark": {"type": "rule", "color": "#e6e6e6", "strokeWidth": 1},
 "encoding": {"x": {"field": "t", "type": "quantitative", "scale": {"domain": [-11.02, 283.1], "nice": false, "zero": false}, "title": null, "axis": {"orient": "bottom", "values": [0, 48, 96, 132, 168, 216, 264], "labelExpr": "datum.value == 0 ? 'Oct' : datum.value == 48 ? '5' : datum.value == 96 ? '7' : datum.value == 132 ? '12:00' : datum.value == 168 ? '12' : datum.value == 216 ? '14' : '16'", "domain": true, "ticks": false, "labelPadding": 3, "title": null, "labelFlush": false, "labelOverlap": false, "zindex": 1, "labelFontWeight": {"condition": {"test": "datum.value == 0", "value": "bold"}, "value": "normal"}}}}},
{"data": {"values": [{}]},
 "mark": {"type": "rect", "color": "#9915ff", "opacity": 0.2},
 "encoding": {"x": {"datum": -11.02, "type": "quantitative"}, "x2": {"datum": 283.1}, "y": {"datum": 20, "type": "quantitative", "axis": null}, "y2": {"datum": 80}}},
{"data": {"values": [{"v":20},{"v":80}]},
 "mark": {"type": "rule", "color": "#5d4a70", "strokeWidth": 1, "strokeDash": [4, 3]},
 "encoding": {"y": {"field": "v", "type": "quantitative", "axis": null}}},
{"data": {"name": "stochK"},
 "mark": {"type": "line", "color": "#2c8ef8", "strokeWidth": 1.2},
 "encoding": {"x": {"field": "t", "type": "quantitative", "title": null}, "y": {"field": "v", "type": "quantitative", "axis": null}}},
{"data": {"name": "stochD"},
 "mark": {"type": "line", "color": "#f4672f", "strokeWidth": 1.2},
 "encoding": {"x": {"field": "t", "type": "quantitative", "title": null}, "y": {"field": "v", "type": "quantitative", "axis": null}}},
{"data": {"values": [{}]},
 "mark": {"type": "text", "text": "Stoch RSI (3, 3, 14, 14, close)", "font": "Lato", "fontSize": 13, "color": "#555555", "align": "left", "baseline": "alphabetic"},
 "encoding": {"x": {"datum": -7.8, "type": "quantitative"}, "y": {"datum": 92, "type": "quantitative", "axis": null}}},
{"data": {"values": [{}]},
 "mark": {"type": "rect", "color": "#ffffff"},
 "encoding": {"x": {"datum": 283.1, "type": "quantitative"}, "x2": {"datum": 302.58}, "y": {"datum": -20.32, "type": "quantitative", "axis": null}, "y2": {"datum": 105.65}}},
{"data": {"values": [{}]},
 "mark": {"type": "rect", "color": "#ffffff"},
 "encoding": {"x": {"datum": -11.02, "type": "quantitative"}, "x2": {"datum": 283.1}, "y": {"datum": -20.32, "type": "quantitative", "axis": null}, "y2": {"datum": -7.34}}},
{"data": {"values": [{}]},
 "mark": {"type": "rule", "color": "#555555", "strokeWidth": 1},
 "encoding": {"x": {"datum": -11.02, "type": "quantitative"}, "x2": {"datum": 302.58}, "y": {"datum": -20.32, "type": "quantitative", "axis": null}}},
{"data": {"values": [{}]},
 "mark": {"type": "rule", "color": "#555555", "strokeWidth": 1},
 "encoding": {"x": {"datum": 302.58, "type": "quantitative"}, "y": {"datum": -20.32, "type": "quantitative", "axis": null}, "y2": {"datum": 105.65}}},
{"data": {"values": [{}]},
 "mark": {"type": "rule", "color": "#555555", "strokeWidth": 1},
 "encoding": {"x": {"datum": -11.02, "type": "quantitative"}, "y": {"datum": -20.32, "type": "quantitative", "axis": null}, "y2": {"datum": -7.34}}},
{"data": {"values": [{}]},
 "mark": {"type": "rule", "color": "#555555", "strokeWidth": 1},
 "encoding": {"x": {"datum": 283.1, "type": "quantitative"}, "y": {"datum": -7.34, "type": "quantitative", "axis": null}, "y2": {"datum": 105.65}}},
{"data": {"name": "oscTicks"},
 "mark": {"type": "rule", "color": "#555555", "strokeWidth": 1},
 "encoding": {"x": {"datum": 283.1, "type": "quantitative"}, "x2": {"datum": 284.52}, "y": {"field": "v", "type": "quantitative", "axis": null}}},
{"data": {"name": "oscTicks"},
 "mark": {"type": "text", "font": "Liberation Sans", "fontSize": 12, "color": "#555555", "align": "left", "baseline": "middle", "dx": 6},
 "encoding": {"x": {"datum": 283.1, "type": "quantitative"}, "y": {"field": "v", "type": "quantitative", "axis": null}, "text": {"field": "v", "type": "quantitative", "format": ".4f"}}}
]
}
]
}
